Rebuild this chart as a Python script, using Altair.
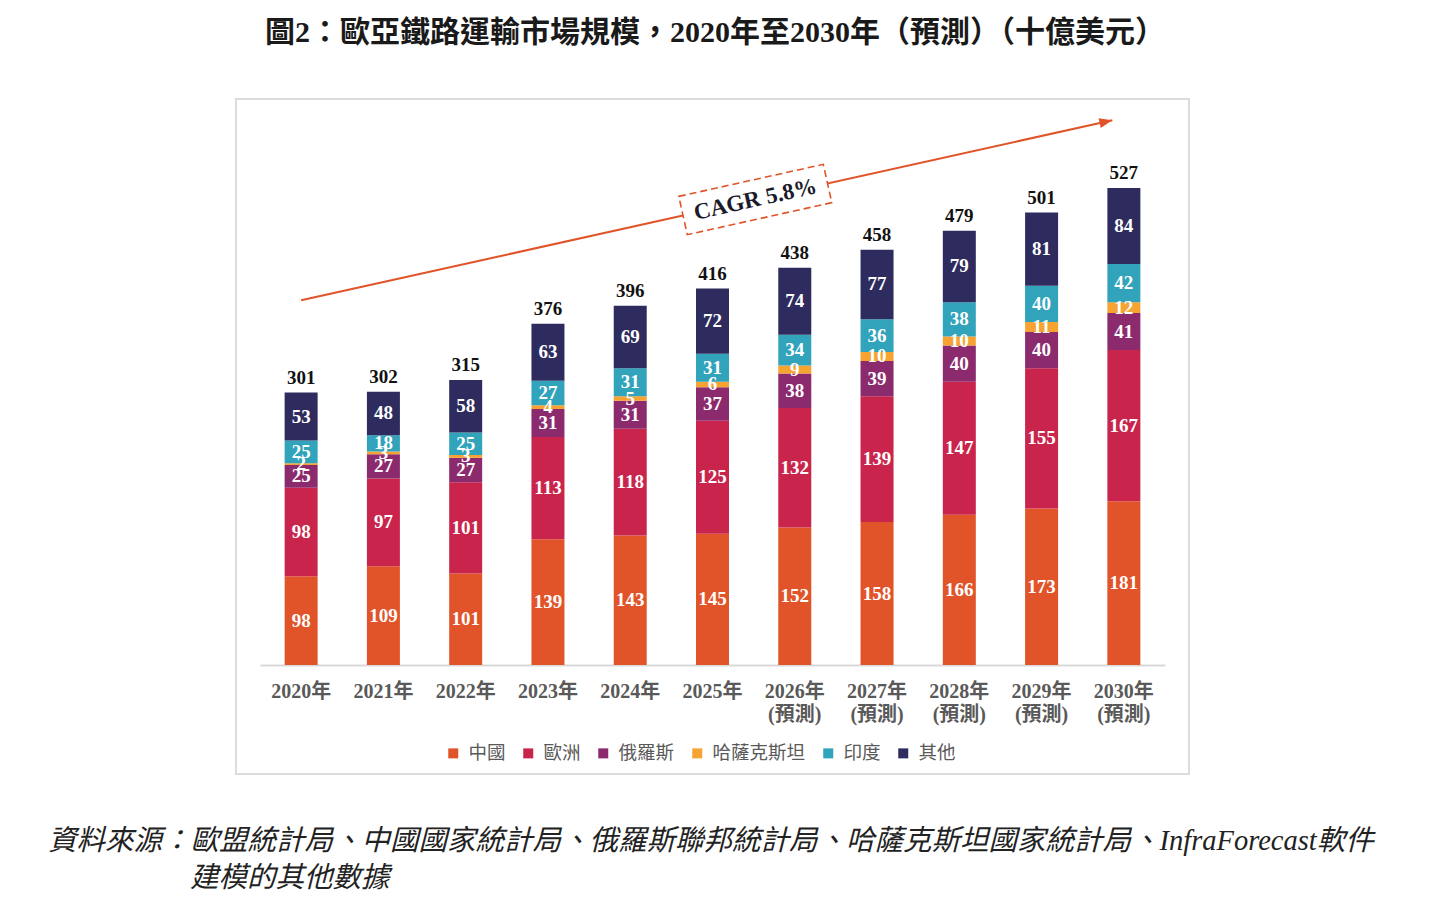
import altair as alt
import pandas as pd

# Eurasian rail transport market size, USD billions
years = ["2020年", "2021年", "2022年", "2023年", "2024年", "2025年",
         "2026年", "2027年", "2028年", "2029年", "2030年"]
forecast_start = 2026
regions = ["中國", "歐洲", "俄羅斯", "哈薩克斯坦", "印度", "其他"]
china = [98, 109, 101, 139, 143, 145, 152, 158, 166, 173, 181]
europe = [98, 97, 101, 113, 118, 125, 132, 139, 147, 155, 167]
russia = [25, 27, 27, 31, 31, 37, 38, 39, 40, 40, 41]
kazakhstan = [2, 3, 3, 4, 5, 6, 9, 10, 10, 11, 12]
india = [25, 18, 25, 27, 31, 31, 34, 36, 38, 40, 42]
other = [53, 48, 58, 63, 69, 72, 74, 77, 79, 81, 84]
totals = [301, 302, 315, 376, 396, 416, 438, 458, 479, 501, 527]
colors = ["#E1542A", "#C9254C", "#8C2A6E", "#F7A332", "#31A3BB", "#2E2C5E"]

cagr_text = "CAGR 5.8%"
title_text = "圖2：歐亞鐵路運輸市場規模，2020年至2030年（預測）（十億美元）"
source_line1 = "資料來源：歐盟統計局、中國國家統計局、俄羅斯聯邦統計局、哈薩克斯坦國家統計局、InfraForecast軟件"
source_line2 = "建模的其他數據"

# growth arrow: bar index along x, value along y
arrow_x = [0.0, 9.86]
arrow_y = [403, 602]

W, H = 905, 552
Y_MAX = 610
SERIF = "Liberation Serif, Noto Sans CJK TC"
CJK = "Noto Sans CJK TC"

labels = [y + ("\n(預測)" if int(y[:4]) >= forecast_start else "") for y in years]
series = [china, europe, russia, kazakhstan, india, other]

rows = []
for i, lab in enumerate(labels):
    base = 0
    for reg, vals in zip(regions, series):
        v = vals[i]
        rows.append({"year": lab, "region": reg, "value": v,
                     "y0": base, "y1": base + v, "mid": base + v / 2})
        base += v
seg = pd.DataFrame(rows)
tot = pd.DataFrame({"year": labels, "total": totals,
                    "top": [sum(s[i] for s in series) for i in range(len(labels))]})

x_axis = alt.Axis(title=None, ticks=False, domainColor="#d9d9d9",
                  domainWidth=2, labelAngle=0,
                  labelExpr="split(datum.label, '\\n')",
                  labelFont=SERIF, labelFontWeight="bold",
                  labelFontSize=20, labelColor="#595959",
                  labelLineHeight=23, labelPadding=16)
xband = alt.X("year:N", sort=labels,
              scale=alt.Scale(paddingInner=0, paddingOuter=0), axis=x_axis)
yscale = alt.Scale(domain=[0, Y_MAX], nice=False, zero=True)

bars = alt.Chart(seg).mark_bar(size=33).encode(
    x=xband,
    y=alt.Y("y0:Q", scale=yscale, axis=None),
    y2="y1:Q",
    color=alt.Color("region:N",
                    scale=alt.Scale(domain=regions, range=colors),
                    legend=alt.Legend(title=None, orient="none",
                                      direction="horizontal",
                                      legendX=184, legendY=631, padding=0,
                                      symbolType="square", symbolSize=100,
                                      symbolStrokeWidth=0,
                                      labelFont=CJK, labelFontSize=18.5,
                                      labelColor="#595959", labelOffset=6,
                                      columnPadding=13)),
)

seg_text = alt.Chart(seg).mark_text(
    font=SERIF, fontWeight="bold", fontSize=19, color="white", baseline="middle"
).encode(
    x=xband,
    y=alt.Y("mid:Q", scale=yscale, axis=None),
    text="value:Q",
)

tot_text = alt.Chart(tot).mark_text(
    font=SERIF, fontWeight="bold", fontSize=19, color="#111111",
    baseline="middle", dy=-15
).encode(
    x=xband,
    y=alt.Y("top:Q", scale=yscale, axis=None),
    text="total:Q",
)

# annotation layer on an index scale aligned with the band centres
ax_scale = alt.Scale(domain=[-0.5, len(years) - 0.5], nice=False, zero=False)
arrow_df = pd.DataFrame({"ax": arrow_x, "ay": arrow_y})
head_df = arrow_df.tail(1)
t = 5.52 / arrow_x[1]
box_df = pd.DataFrame({"ax": [5.52], "ay": [arrow_y[0] + t * (arrow_y[1] - arrow_y[0])],
                       "label": [cagr_text]})
ANGLE = 347.5
ORANGE = "#E1542A"

arrow_line = alt.Chart(arrow_df).mark_line(color=ORANGE, strokeWidth=2).encode(
    x=alt.X("ax:Q", scale=ax_scale, axis=None),
    y=alt.Y("ay:Q", scale=yscale, axis=None),
)
arrow_head = alt.Chart(head_df).mark_point(
    shape="M-3.25,-1.25L0,0L-3.25,1.25Z", size=64, angle=ANGLE,
    filled=True, color=ORANGE, opacity=1
).encode(
    x=alt.X("ax:Q", scale=ax_scale, axis=None),
    y=alt.Y("ay:Q", scale=yscale, axis=None),
)
cagr_box = alt.Chart(box_df).mark_point(
    shape="M-1,-0.265L1,-0.265L1,0.265L-1,0.265Z", size=148 * 148, angle=ANGLE,
    filled=False, fill="white", fillOpacity=1, stroke=ORANGE, strokeWidth=1.6,
    strokeDash=[7, 4], opacity=1
).encode(
    x=alt.X("ax:Q", scale=ax_scale, axis=None),
    y=alt.Y("ay:Q", scale=yscale, axis=None),
)
cagr_label = alt.Chart(box_df).mark_text(
    font=SERIF, fontWeight="bold", fontSize=23, color="#1b1b2b",
    angle=ANGLE, baseline="middle", align="center"
).encode(
    x=alt.X("ax:Q", scale=ax_scale, axis=None),
    y=alt.Y("ay:Q", scale=yscale, axis=None),
    text="label:N",
)

frame = alt.Chart(pd.DataFrame({"f": [0]})).mark_rect(
    fill="white", fillOpacity=0, stroke="#dcdcdc", strokeWidth=2
).encode(x=alt.value(-24), x2=alt.value(929), y=alt.value(-14), y2=alt.value(661))

title = alt.Chart(pd.DataFrame({"t": [title_text]})).mark_text(
    font=SERIF, fontWeight="bold", fontSize=30, color="#1a1a1a",
    align="center", baseline="middle"
).encode(text="t:N", x=alt.value(455), y=alt.value(-80))

src1 = alt.Chart(pd.DataFrame({"t": [source_line1]})).mark_text(
    font=SERIF, fontStyle="italic", fontSize=28.5, color="#222222",
    align="left", baseline="middle"
).encode(text="t:N", x=alt.value(-212), y=alt.value(728))

src2 = alt.Chart(pd.DataFrame({"t": [source_line2]})).mark_text(
    font=SERIF, fontStyle="italic", fontSize=28.5, color="#222222",
    align="left", baseline="middle"
).encode(text="t:N", x=alt.value(-70), y=alt.value(765))

main = alt.layer(frame, bars, seg_text, tot_text, title, src1, src2)
notes = alt.layer(arrow_line, cagr_box, cagr_label, arrow_head)

chart = alt.layer(main, notes).resolve_scale(x="independent").properties(
    width=W, height=H,
    autosize=alt.AutoSizeParams(type="none"),
    padding={"left": 260, "top": 113, "right": 1430 - 260 - W, "bottom": 900 - 113 - H},
    background="white",
).configure_view(strokeWidth=0)

chart.save("out.html", embed_options={"renderer": "svg", "actions": False})
